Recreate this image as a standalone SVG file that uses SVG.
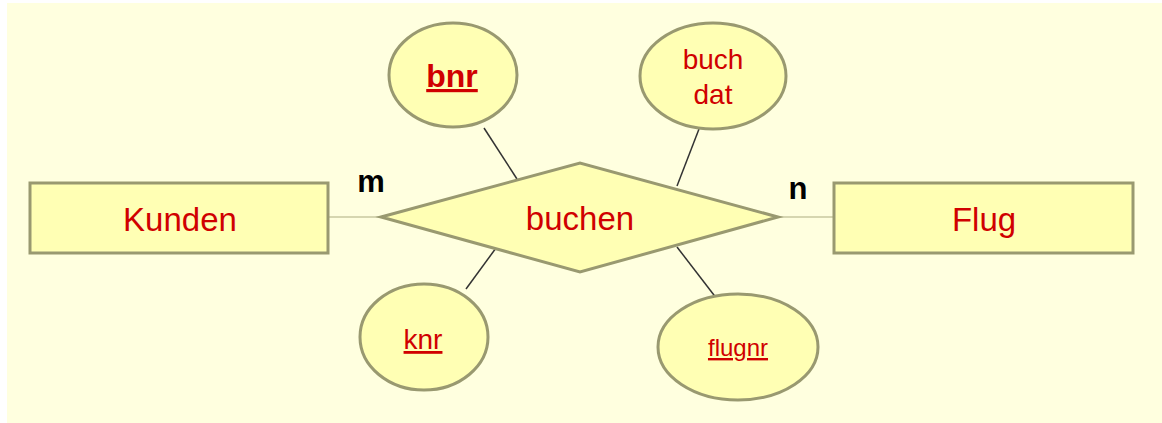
<svg xmlns="http://www.w3.org/2000/svg" width="1162" height="423" viewBox="0 0 1162 423">
<style>
.shape{fill:#FFFFB4;stroke:#999970;stroke-width:3}
.lbl{font-family:"Liberation Sans",Arial,sans-serif;fill:#D00000;text-anchor:middle}
.card{font-family:"Liberation Sans",Arial,sans-serif;fill:#000;font-weight:bold;text-anchor:middle;font-size:31px}
.rel{stroke:#C8C8A0;stroke-width:1.5;fill:none}
.attr{stroke:#333;stroke-width:1.5;fill:none}
</style>
<rect x="7" y="3" width="1155" height="420" fill="#FFFFDF"/>
<g id="connectors">
<line class="rel" x1="328" y1="217" x2="382" y2="217"/>
<line class="rel" x1="778" y1="217" x2="835" y2="217"/>
<line class="attr" x1="484" y1="128" x2="517" y2="179"/>
<line class="attr" x1="496" y1="248" x2="466" y2="289"/>
<line class="attr" x1="699" y1="129" x2="677" y2="186"/>
<line class="attr" x1="677" y1="247" x2="717" y2="299"/>
</g>
<g id="kunden">
<rect class="shape" x="30" y="183" width="298" height="70"/>
<text class="lbl" x="180" y="231" font-size="33">Kunden</text>
</g>
<g id="flug">
<rect class="shape" x="834" y="183" width="299" height="70"/>
<text class="lbl" x="984" y="231" font-size="33">Flug</text>
</g>
<g id="buchen">
<polygon class="shape" points="381,217 580,163 778,217 580,272"/>
<text class="lbl" x="580" y="230" font-size="33">buchen</text>
</g>
<g id="bnr">
<ellipse class="shape" cx="453" cy="75" rx="64" ry="52"/>
<text class="lbl" x="452" y="87" font-size="32" font-weight="bold" text-decoration="underline">bnr</text>
</g>
<g id="buchdat">
<ellipse class="shape" cx="713" cy="76" rx="73" ry="53"/>
<text class="lbl" x="713" y="69" font-size="28">buch</text>
<text class="lbl" x="713" y="104" font-size="28">dat</text>
</g>
<g id="knr">
<ellipse class="shape" cx="424" cy="337" rx="64" ry="53"/>
<text class="lbl" x="423" y="349" font-size="28" text-decoration="underline">knr</text>
</g>
<g id="flugnr">
<ellipse class="shape" cx="738" cy="347" rx="80" ry="53"/>
<text class="lbl" x="738" y="356" font-size="24" text-decoration="underline">flugnr</text>
</g>
<g id="cardinalities">
<text class="card" x="371" y="192">m</text>
<text class="card" x="798" y="199">n</text>
</g>
</svg>
